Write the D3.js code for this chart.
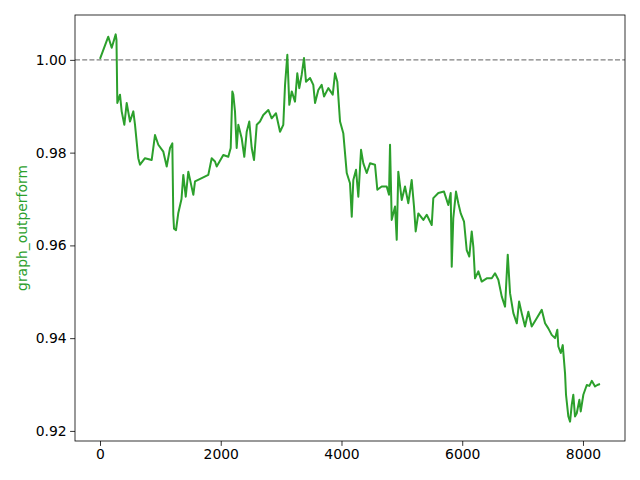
<!DOCTYPE html>
<html>
<head>
<meta charset="utf-8">
<script src="https://cdn.jsdelivr.net/npm/d3@7"></script>
<style>
  body { margin: 0; background: #fff; }
  svg { display: block; font-family: "DejaVu Sans", sans-serif; }
</style>
</head>
<body>
<svg id="chart" width="640" height="480"></svg>
<script>
// step index of each sample
var steps = [0, 137, 194, 260, 273, 287, 331, 359, 403, 442, 497, 552, 580, 634, 663, 745, 856, 911, 966, 1049,
  1105, 1160, 1198, 1214, 1226, 1259, 1297, 1350, 1380, 1420, 1463, 1546, 1574, 1685, 1794, 1850, 1905, 1933, 2042, 2125, 2165, 2192, 2208,
  2236, 2264, 2291, 2347, 2390, 2430, 2473, 2513, 2551, 2596, 2650, 2705, 2788, 2844, 2915, 2982, 3036, 3065, 3103, 3136,
  3176, 3230, 3268, 3301, 3341, 3379, 3412, 3479, 3533, 3562, 3616, 3672, 3711, 3782, 3855, 3893, 3931, 3976, 4030, 4087,
  4141, 4170, 4196, 4241, 4279, 4324, 4362, 4418, 4473, 4555, 4594, 4666, 4749, 4787, 4804, 4832, 4887, 4915, 4941, 4998,
  5052, 5107, 5163, 5201, 5229, 5273, 5356, 5412, 5495, 5521, 5604, 5698, 5743, 5769, 5809, 5826, 5852, 5897, 5935, 5975,
  6030, 6074, 6117, 6157, 6184, 6212, 6267, 6323, 6406, 6489, 6543, 6598, 6654, 6709, 6754, 6792, 6847, 6904, 6942, 6985,
  7040, 7095, 7151, 7234, 7317, 7372, 7426, 7482, 7537, 7575, 7592, 7632, 7665, 7703, 7719, 7758, 7786, 7814, 7840, 7868,
  7897, 7940, 7963, 8006, 8063, 8106, 8146, 8200, 8238, 8282];

// graph_outperform value at each step
var outperform = [1.0002, 1.0050, 1.0026, 1.0055, 1.0043, 0.9907, 0.9925, 0.9889, 0.9860, 0.9907, 0.9867, 0.9889, 0.9860, 0.9788, 0.9774, 0.9788, 0.9784, 0.9838, 0.9817, 0.9802,
  0.9770, 0.9810, 0.9820, 0.9666, 0.9636, 0.9633, 0.9670, 0.9700, 0.9752, 0.9705, 0.9759, 0.9709, 0.9738, 0.9745, 0.9752, 0.9788, 0.9781, 0.9770, 0.9795, 0.9791, 0.9810, 0.9932, 0.9925,
  0.9889, 0.9810, 0.9860, 0.9831, 0.9791, 0.9845, 0.9867, 0.9810, 0.9784, 0.9860, 0.9867, 0.9881, 0.9892, 0.9874, 0.9885, 0.9845, 0.9860, 0.9946, 1.0011, 0.9903,
  0.9932, 0.9910, 0.9971, 0.9939, 0.9968, 1.0004, 0.9953, 0.9961, 0.9946, 0.9907, 0.9935, 0.9946, 0.9921, 0.9939, 0.9925, 0.9971, 0.9953, 0.9867, 0.9842, 0.9756,
  0.9734, 0.9662, 0.9741, 0.9763, 0.9705, 0.9806, 0.9777, 0.9756, 0.9777, 0.9774, 0.9720, 0.9727, 0.9727, 0.9709, 0.9817, 0.9655, 0.9684, 0.9612, 0.9759, 0.9698,
  0.9727, 0.9691, 0.9741, 0.9684, 0.9630, 0.9669, 0.9655, 0.9666, 0.9644, 0.9702, 0.9713, 0.9716, 0.9698, 0.9687, 0.9713, 0.9554, 0.9659, 0.9716, 0.9691, 0.9669,
  0.9651, 0.9590, 0.9576, 0.9630, 0.9597, 0.9529, 0.9544, 0.9522, 0.9529, 0.9529, 0.9540, 0.9526, 0.9490, 0.9468, 0.9580, 0.9497, 0.9454, 0.9432, 0.9479, 0.9454,
  0.9425, 0.9457, 0.9425, 0.9443, 0.9461, 0.9432, 0.9421, 0.9407, 0.9400, 0.9418, 0.9382, 0.9368, 0.9385, 0.9324, 0.9278, 0.9231, 0.9220, 0.9256, 0.9278, 0.9231,
  0.9238, 0.9267, 0.9242, 0.9278, 0.9299, 0.9297, 0.9308, 0.9296, 0.9299, 0.9301];

var xTicks = [0, 2000, 4000, 6000, 8000];
var yTicks = [0.92, 0.94, 0.96, 0.98, 1.00];
var baseline = 1.0;

var svg = d3.select('#chart');
var M = { left: 75, right: 625, top: 15, bottom: 441 };
var green = '#2ca02c';

var data = steps.map(function(s, i) { return { x: s, y: outperform[i] }; });

// matplotlib style 5% margins
var xe = d3.extent(steps), ye = d3.extent(outperform);
var xp = (xe[1] - xe[0]) * 0.05, yp = (ye[1] - ye[0]) * 0.05;
var x = d3.scaleLinear().domain([xe[0] - xp, xe[1] + xp]).range([M.left, M.right]);
var y = d3.scaleLinear().domain([ye[0] - yp, ye[1] + yp]).range([M.bottom, M.top]);

// dashed reference line
svg.append('line')
  .attr('x1', M.left).attr('x2', M.right)
  .attr('y1', y(baseline)).attr('y2', y(baseline))
  .attr('stroke', '#808080').attr('stroke-width', 1.1)
  .attr('stroke-dasharray', '5,2.2');

svg.append('path').datum(data)
  .attr('fill', 'none').attr('stroke', green).attr('stroke-width', 2)
  .attr('stroke-linejoin', 'round')
  .attr('d', d3.line().x(function(d) { return x(d.x); }).y(function(d) { return y(d.y); }));

// axes
var xAxis = svg.append('g').attr('transform', 'translate(0,' + M.bottom + ')')
  .call(d3.axisBottom(x).tickValues(xTicks).tickFormat(d3.format('d')).tickSizeOuter(0).tickSize(4.9).tickPadding(3.5));
var yAxis = svg.append('g').attr('transform', 'translate(' + M.left + ',0)')
  .call(d3.axisLeft(y).tickValues(yTicks).tickFormat(d3.format('.2f')).tickSizeOuter(0).tickSize(4.9).tickPadding(3.5));
[xAxis, yAxis].forEach(function(a) {
  a.select('.domain').remove();
  a.selectAll('line').attr('stroke', '#000').attr('stroke-width', 0.8);
  a.selectAll('text').attr('fill', '#000').style('font-size', '13.9px').style('font-family', '"DejaVu Sans", sans-serif');
});

svg.append('rect')
  .attr('x', M.left).attr('y', M.top)
  .attr('width', M.right - M.left).attr('height', M.bottom - M.top)
  .attr('fill', 'none').attr('stroke', '#000').attr('stroke-width', 0.8);

svg.append('text')
  .attr('transform', 'translate(27,' + ((M.top + M.bottom) / 2) + ') rotate(-90)')
  .attr('text-anchor', 'middle')
  .attr('fill', green).style('font-size', '13.9px')
  .text('graph_outperform');
</script>
</body>
</html>
